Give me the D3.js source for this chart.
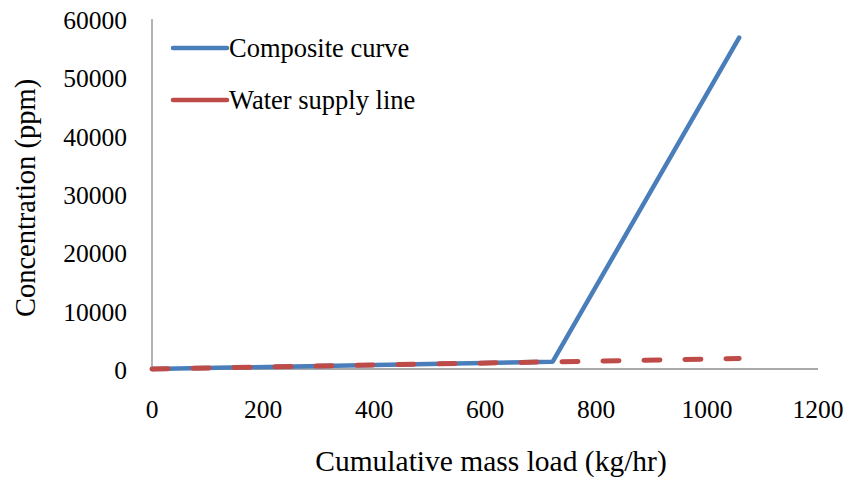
<!DOCTYPE html>
<html><head><meta charset="utf-8">
<script src="https://cdn.jsdelivr.net/npm/d3@7/dist/d3.min.js"></script>
<style>body{margin:0;background:#fff}svg text{font-family:"Liberation Serif","Times New Roman",serif;fill:#000}</style>
</head><body><svg id="c" width="851" height="485"></svg>
<script>
const compositeX = [0, 722, 1058];
const compositeY = [0, 1250, 56800];
const supplyX = [0, 1058];
const supplyY = [0, 1800];
const xTicks = [0, 200, 400, 600, 800, 1000, 1200];
const yTicks = [0, 10000, 20000, 30000, 40000, 50000, 60000];
const seriesNames = ["Composite curve", "Water supply line"];

const svg = d3.select("#c");
const x = d3.scaleLinear().domain([0, 1200]).range([152, 818]);
const y = d3.scaleLinear().domain([0, 60000]).range([369, 19]);

// axes
svg.append("line").attr("x1", x(0)).attr("x2", x(1200)).attr("y1", y(0)).attr("y2", y(0)).attr("stroke", "#8c8c8c").attr("stroke-width", 1.3);
svg.append("line").attr("x1", x(0)).attr("x2", x(0)).attr("y1", y(0)).attr("y2", y(60000)).attr("stroke", "#8c8c8c").attr("stroke-width", 1.3);

svg.selectAll(".xt").data(xTicks).enter().append("text")
  .attr("x", d => x(d)).attr("y", 418).attr("text-anchor", "middle").attr("font-size", 25.5).text(d => d);
svg.selectAll(".yt").data(yTicks).enter().append("text")
  .attr("x", 127).attr("y", d => y(d) + 10).attr("text-anchor", "end").attr("font-size", 25.5).text(d => d);

svg.append("text").attr("x", 491).attr("y", 471).attr("text-anchor", "middle").attr("font-size", 29.5).text("Cumulative mass load (kg/hr)");
svg.append("text").attr("transform", "translate(35,198) rotate(-90)").attr("text-anchor", "middle").attr("font-size", 28.5).text("Concentration (ppm)");

const line = d3.line().x(d => x(d[0])).y(d => y(d[1]));
const comp = compositeX.map((v, i) => [v, compositeY[i]]);
const sup = supplyX.map((v, i) => [v, supplyY[i]]);

svg.append("path").attr("d", line(comp)).attr("fill", "none").attr("stroke", "#4a7ebb").attr("stroke-width", 4.5).attr("stroke-linecap", "round").attr("stroke-linejoin", "round");
svg.append("path").attr("d", line(sup)).attr("fill", "none").attr("stroke", "#be4b48").attr("stroke-width", 5).attr("stroke-linecap", "round").attr("stroke-dasharray", "16,25");

// legend
const leg = [{c: "#4a7ebb", y: 48}, {c: "#be4b48", y: 100}];
leg.forEach((l, i) => {
  svg.append("line").attr("x1", 173).attr("x2", 227).attr("y1", l.y).attr("y2", l.y).attr("stroke", l.c).attr("stroke-width", 4.5).attr("stroke-linecap", "round");
  svg.append("text").attr("x", 229).attr("y", l.y + 9).attr("font-size", 26.5).text(seriesNames[i]);
});
</script></body></html>
